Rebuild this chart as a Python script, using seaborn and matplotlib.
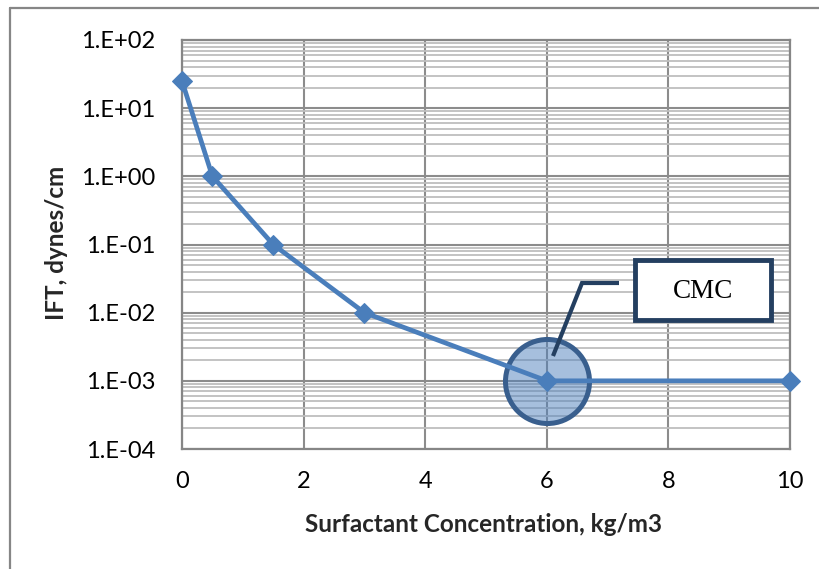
import matplotlib
matplotlib.use("Agg")
import matplotlib.pyplot as plt
import seaborn as sns
import pandas as pd
from matplotlib.lines import Line2D
from matplotlib.patches import Rectangle
from matplotlib.ticker import LogLocator, NullFormatter

# Interfacial tension vs. surfactant concentration
concentration = [0, 0.5, 1.5, 3, 6, 10]
ift = [25, 1, 0.1, 0.01, 0.001, 0.001]

x_ticks = [0, 2, 4, 6, 8, 10]
y_ticks = [1e-4, 1e-3, 1e-2, 1e-1, 1e0, 1e1, 1e2]
y_tick_labels = ["1.E-04", "1.E-03", "1.E-02", "1.E-01", "1.E+00", "1.E+01", "1.E+02"]

# Critical micelle concentration marker
cmc_concentration = 6
cmc_ift = 0.001
cmc_label = "CMC"

x_label = "Surfactant Concentration, kg/m3"
y_label = "IFT, dynes/cm"

sns.set_theme(style="white")
plt.rcParams["font.family"] = ["Lato", "DejaVu Sans"]

W, H = 820, 569
fig = plt.figure(figsize=(W / 100, H / 100), dpi=100)


def fx(px):
    return px / W


def fy(py):
    return 1 - py / H


ax = fig.add_axes([fx(182), fy(449), fx(790) - fx(182), fy(40) - fy(449)])

df = pd.DataFrame({"conc": concentration, "ift": ift})
line_color = "#4A7EBB"
sns.lineplot(data=df, x="conc", y="ift", ax=ax, sort=False, color=line_color,
             lw=3.4, marker="D", ms=10, mec=line_color, mfc=line_color,
             zorder=4, clip_on=False)

ax.set_yscale("log")
ax.set_xlim(0, 10)
ax.set_ylim(1e-4, 1e2)

ax.set_xticks(x_ticks)
ax.set_xticklabels([str(t) for t in x_ticks])
ax.set_yticks(y_ticks)
ax.set_yticklabels(y_tick_labels)
ax.yaxis.set_minor_locator(LogLocator(base=10, subs=range(2, 10), numticks=20))
ax.yaxis.set_minor_formatter(NullFormatter())
ax.tick_params(axis="both", which="both", length=0, labelsize=17, colors="black")
ax.tick_params(axis="y", pad=19)
ax.tick_params(axis="x", pad=16)

ax.grid(True, which="major", axis="both", color="#8C8C8C", lw=1.5, zorder=0)
ax.grid(True, which="minor", axis="y", color="#BEBEBE", lw=1.3, zorder=0)
ax.set_axisbelow(True)
for sp in ax.spines.values():
    sp.set_color("#868686")
    sp.set_linewidth(1.6)

ax.set_xlabel("")
ax.set_ylabel("")
fig.text(fx(484), fy(524), x_label, ha="center", va="center",
         fontsize=17.5, fontweight="bold")
fig.text(fx(57), fy(243), y_label, ha="center", va="center", rotation=90,
         fontsize=17.5, fontweight="bold")

# Highlight circle around the CMC point
ax.scatter([cmc_concentration], [cmc_ift], s=3660, marker="o",
           facecolor=(0.31, 0.506, 0.741, 0.5), edgecolor="#395F8E",
           linewidth=3.6, zorder=3, clip_on=False)

# Callout leader line and label box
callout_color = "#243F60"
fig.add_artist(Line2D([fx(553), fx(582), fx(619)], [fy(356), fy(283), fy(283)],
                      transform=fig.transFigure, color=callout_color, lw=3.0,
                      solid_capstyle="butt", solid_joinstyle="miter"))
fig.add_artist(Rectangle((fx(635), fy(320)), fx(771) - fx(635), fy(260) - fy(320),
                         transform=fig.transFigure, facecolor="white",
                         edgecolor=callout_color, lw=3.5))
fig.text(fx(703), fy(291), cmc_label, ha="center", va="center",
         fontsize=19.5, family="Liberation Serif", color="black")

# Chart-area frame
frame_color = "#868686"
fig.add_artist(Line2D([fx(10), fx(10)], [fy(8), 0], transform=fig.transFigure,
                      color=frame_color, lw=1.6))
fig.add_artist(Line2D([fx(10), 1], [fy(8), fy(8)], transform=fig.transFigure,
                      color=frame_color, lw=1.6))

fig.savefig("out.png", dpi=100)
